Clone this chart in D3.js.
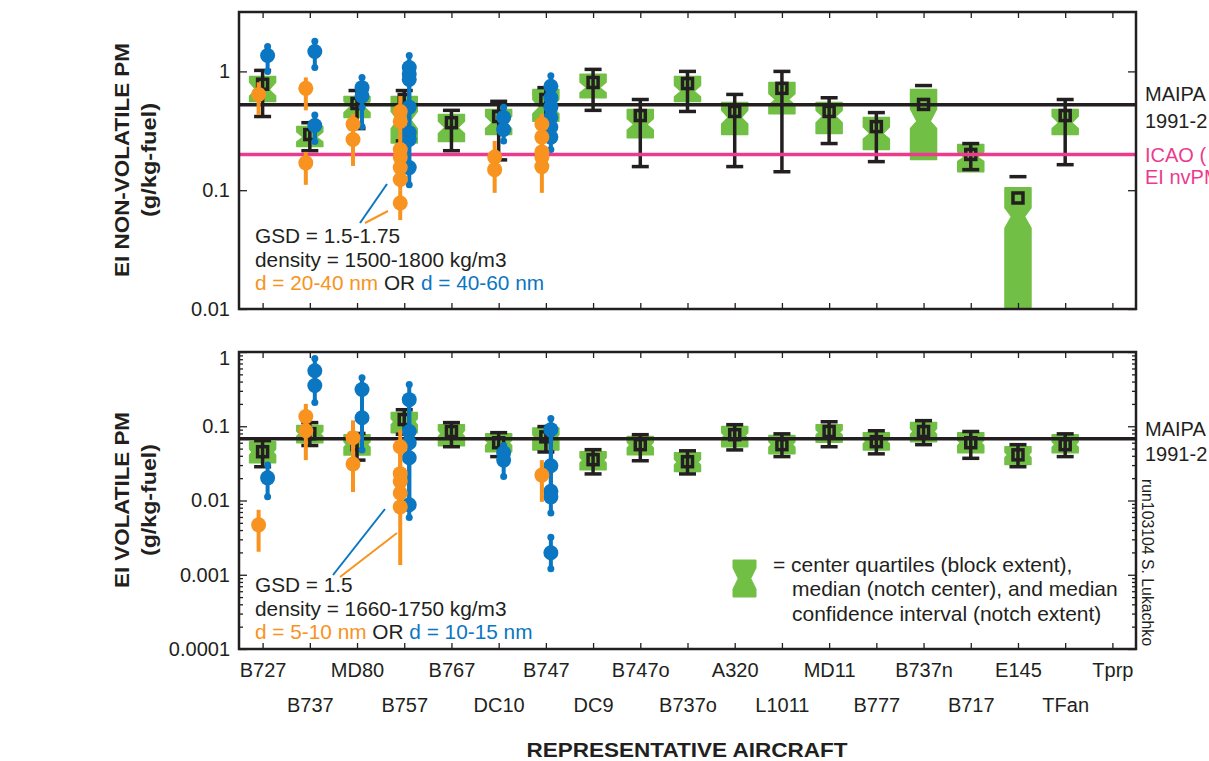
<!DOCTYPE html>
<html>
<head>
<meta charset="utf-8">
<script src="https://d3js.org/d3.v7.min.js"></script>
<style>
  body { margin: 0; background: #fff; }
  svg { display: block; font-family: "Liberation Sans", Arial, Helvetica, sans-serif; }
</style>
</head>
<body>
<div id="chart"></div>
<script>
const aircraft = ["B727","B737","MD80","B757","B767","DC10","B747","DC9","B747o","B737o",
                  "A320","L1011","MD11","B777","B737n","B717","E145","TFan","Tprp"];

// top panel: EI non-volatile PM, boxes (quartiles / median / notch) and mean +- range
const nvQ1      = [0.558,0.233,0.41,0.25,0.257,0.294,0.38,0.6,0.277,0.558,0.294,0.44,0.3,0.22,0.181,0.143,0.008,0.294,null];
const nvQ3      = [0.907,0.343,0.615,0.615,0.434,0.478,0.705,0.944,0.478,0.907,0.547,0.807,0.547,0.41,0.705,0.242,0.105,0.478,null];
const nvMed     = [0.70,0.28,0.506,0.39,0.337,0.37,0.5,0.73,0.357,0.68,0.41,0.58,0.42,0.3,0.38,0.19,0.06,0.37,null];
const nvNotchLo = [0.62,0.255,0.45,0.33,0.30,0.33,0.44,0.66,0.32,0.61,0.36,0.52,0.37,0.27,0.33,0.175,0.048,0.33,null];
const nvNotchHi = [0.81,0.31,0.56,0.46,0.38,0.42,0.58,0.81,0.40,0.76,0.47,0.65,0.47,0.34,0.48,0.21,0.071,0.42,null];
const nvMean    = [0.78,0.294,0.537,0.58,0.37,0.417,0.58,0.807,0.425,0.79,0.46,0.72,0.46,0.343,0.527,0.2,0.086,0.425,null];
const nvErrLo   = [0.417,0.215,0.33,0.26,0.215,0.18,0.30,0.47,0.158,0.46,0.158,0.143,0.247,0.174,null,0.149,null,0.164,null];
const nvErrHi   = [1.02,0.37,0.69,0.69,0.47,0.56,0.73,1.04,0.58,1.0,0.64,1.0,0.6,0.45,0.76,0.247,0.13,0.58,null];

// modelled points: [aircraft, value, low, high]
const nvSmall = [
  ["B727",0.64,0.43,0.81],
  ["B737",0.72,0.47,0.89],["B737",0.17,0.111,0.21],
  ["MD80",0.36,0.27,0.44],["MD80",0.267,0.16,0.36],
  ["B757",0.46,0.38,0.62],["B757",0.38,0.30,0.46],["B757",0.22,0.19,0.30],["B757",0.19,0.155,0.22],
  ["B757",0.155,0.123,0.19],["B757",0.123,0.10,0.155],["B757",0.078,0.056,0.10],
  ["DC10",0.19,0.15,0.26],["DC10",0.149,0.095,0.19],
  ["B747",0.36,0.28,0.44],["B747",0.28,0.21,0.36],["B747",0.21,0.158,0.28],["B747",0.19,0.158,0.21],["B747",0.158,0.095,0.19]
];
const nvLarge = [
  ["B727",1.36,1.0,1.62],
  ["B737",1.47,1.08,1.79],["B737",0.35,0.257,0.43],
  ["MD80",0.73,0.5,0.89],["MD80",0.62,0.343,0.73],
  ["B757",1.08,0.95,1.36],["B757",0.95,0.856,1.08],["B757",0.856,0.5,0.95],["B757",0.5,0.305,0.856],
  ["B757",0.305,0.267,0.5],["B757",0.267,0.155,0.305],["B757",0.155,0.111,0.267],
  ["DC10",0.41,0.33,0.5],["DC10",0.324,0.26,0.41],
  ["B747",0.75,0.6,0.92],["B747",0.6,0.5,0.75],["B747",0.5,0.41,0.6],["B747",0.41,0.34,0.5],
  ["B747",0.34,0.28,0.41],["B747",0.28,0.22,0.34]
];
const nvMaipa = 0.525;
const nvIcao = 0.2;

// bottom panel: EI volatile PM
const volQ1      = [0.0323,0.060,0.041,0.082,0.0547,0.0454,0.048,0.026,0.0412,0.0245,0.053,0.0425,0.0607,0.048,0.062,0.044,0.0305,0.044,null];
const volQ3      = [0.062,0.102,0.077,0.153,0.105,0.079,0.095,0.0454,0.0725,0.044,0.099,0.075,0.105,0.082,0.112,0.082,0.053,0.077,null];
const volMed     = [0.045,0.079,0.057,0.115,0.08,0.06,0.07,0.035,0.056,0.033,0.075,0.057,0.083,0.063,0.085,0.06,0.041,0.057,null];
const volNotchLo = [0.041,0.073,0.052,0.105,0.073,0.055,0.064,0.032,0.051,0.030,0.069,0.052,0.076,0.058,0.078,0.055,0.038,0.052,null];
const volNotchHi = [0.049,0.086,0.062,0.126,0.088,0.065,0.077,0.038,0.061,0.036,0.082,0.062,0.09,0.068,0.093,0.065,0.045,0.062,null];
const volMean    = [0.0454,0.0794,0.0565,0.123,0.085,0.060,0.072,0.0355,0.0565,0.0333,0.077,0.0565,0.085,0.062,0.085,0.06,0.0412,0.0565,null];
const volErrLo   = [0.0285,0.055,0.035,0.078,0.053,0.039,0.045,0.0228,0.0343,0.0228,0.048,0.039,0.053,0.0425,0.0565,0.037,0.0285,0.039,null];
const volErrHi   = [0.064,0.112,0.08,0.167,0.112,0.082,0.099,0.0484,0.077,0.0467,0.105,0.079,0.115,0.087,0.119,0.085,0.0565,0.079,null];

const volSmall = [
  ["B727",0.0047,0.00204,0.0075],
  ["B737",0.135,0.087,0.2],["B737",0.087,0.035,0.135],
  ["MD80",0.07,0.031,0.12],["MD80",0.031,0.013,0.07],
  ["B757",0.053,0.023,0.09],["B757",0.023,0.018,0.053],["B757",0.018,0.0126,0.023],
  ["B757",0.0126,0.0082,0.018],["B757",0.0082,0.00135,0.0126],
  ["B747",0.022,0.0096,0.035]
];
const volLarge = [
  ["B727",0.0202,0.0112,0.03],
  ["B737",0.56,0.354,0.82],["B737",0.354,0.209,0.56],
  ["MD80",0.312,0.13,0.45],["MD80",0.13,0.048,0.312],
  ["B757",0.228,0.085,0.365],["B757",0.085,0.06,0.228],["B757",0.06,0.0377,0.085],
  ["B757",0.0377,0.00875,0.06],["B757",0.00875,0.0059,0.0377],
  ["DC10",0.044,0.035,0.055],["DC10",0.035,0.021,0.044],
  ["B747",0.09,0.0294,0.127],["B747",0.0294,0.0133,0.09],["B747",0.0133,0.0112,0.0294],
  ["B747",0.0112,0.0068,0.0133],["B747",0.00198,0.0012,0.0032]
];
const volMaipa = 0.068;

const ink = "#231f20", green = "#72bf45", orange = "#f7931e", blue = "#0b76c1", pink = "#ec3b8e";
const left = 239, right = 1136;

const svg = d3.select("#chart").append("svg").attr("width", 1209).attr("height", 761);
const x = d3.scalePoint().domain(aircraft).range([left, right]).padding(0.5);

const notchPath = (cx, yq1, yq3, ynlo, ynhi, ymed, w, neck) => {
  const h = w / 2, n = w * neck / 2;
  ynhi = Math.max(ynhi, yq3); ynlo = Math.min(ynlo, yq1);
  return `M${cx-h},${yq3}L${cx+h},${yq3}L${cx+h},${ynhi}L${cx+n},${ymed}L${cx+h},${ynlo}L${cx+h},${yq1}` +
         `L${cx-h},${yq1}L${cx-h},${ynlo}L${cx-n},${ymed}L${cx-h},${ynhi}Z`;
};

function drawPanel(cfg) {
  const y = d3.scaleLog().domain(cfg.domain).range([cfg.bottom, cfg.top]);
  const g = svg.append("g");
  const clipId = "clip" + cfg.top;
  svg.append("clipPath").attr("id", clipId).append("rect")
    .attr("x", left).attr("y", cfg.top).attr("width", right - left).attr("height", cfg.bottom - cfg.top);
  const plot = g.append("g").attr("clip-path", `url(#${clipId})`);

  const rows = aircraft.map((a, i) => ({
    a, q1: cfg.q1[i], q3: cfg.q3[i], med: cfg.med[i], nlo: cfg.nlo[i], nhi: cfg.nhi[i],
    mean: cfg.mean[i], lo: cfg.errLo[i], hi: cfg.errHi[i]
  })).filter(d => d.q1 != null);

  // notched boxes
  plot.selectAll("path.box").data(rows).join("path")
    .attr("class", "box")
    .attr("d", d => notchPath(x(d.a), y(d.q1), y(d.q3), y(d.nlo), y(d.nhi), y(d.med), 26, cfg.neck))
    .attr("fill", green).attr("stroke", green).attr("stroke-width", 1.5).attr("stroke-linejoin", "round");

  // range bars
  plot.selectAll("line.err").data(rows.filter(d => d.lo != null)).join("line")
    .attr("x1", d => x(d.a)).attr("x2", d => x(d.a))
    .attr("y1", d => y(d.lo)).attr("y2", d => y(d.hi))
    .attr("stroke", ink).attr("stroke-width", 3.5);
  const caps = rows.flatMap(d => d.lo != null ? [[d.a, d.lo], [d.a, d.hi]] : [[d.a, d.hi]]);
  plot.selectAll("line.cap").data(caps).join("line")
    .attr("x1", d => x(d[0]) - 8.5).attr("x2", d => x(d[0]) + 8.5)
    .attr("y1", d => y(d[1])).attr("y2", d => y(d[1]))
    .attr("stroke", ink).attr("stroke-width", 3.5);
  plot.selectAll("rect.mean").data(rows).join("rect")
    .attr("x", d => x(d.a) - 5).attr("y", d => y(d.mean) - 5)
    .attr("width", 10).attr("height", 10)
    .attr("fill", "none").attr("stroke", ink).attr("stroke-width", 3.5);

  // reference lines
  cfg.refs.forEach(r => {
    plot.append("line").attr("x1", left).attr("x2", right)
      .attr("y1", y(r.v)).attr("y2", y(r.v))
      .attr("stroke", r.color).attr("stroke-width", 3.5);
    r.labels.forEach((t, k) => {
      svg.append("text").attr("x", 1145).attr("y", y(r.v) + r.dy[k])
        .attr("font-size", 20).attr("fill", r.color).text(t);
    });
  });

  // modelled points
  const drawPts = (pts, color, dx, ends) => {
    const pg = plot.append("g");
    pg.selectAll("line").data(pts).join("line")
      .attr("x1", d => x(d[0]) + dx).attr("x2", d => x(d[0]) + dx)
      .attr("y1", d => y(d[2])).attr("y2", d => y(d[3]))
      .attr("stroke", color).attr("stroke-width", 4);
    if (ends) {
      pg.selectAll("circle.end").data(pts.flatMap(d => [[d[0], d[2]], [d[0], d[3]]])).join("circle")
        .attr("cx", d => x(d[0]) + dx).attr("cy", d => y(d[1])).attr("r", 3.5).attr("fill", color);
    }
    pg.selectAll("circle.pt").data(pts).join("circle")
      .attr("cx", d => x(d[0]) + dx).attr("cy", d => y(d[1])).attr("r", 7.5).attr("fill", color);
  };
  drawPts(cfg.large, blue, 5, true);
  drawPts(cfg.small, orange, -4, false);

  // axes
  const style = sel => {
    sel.select(".domain").remove();
    sel.selectAll(".tick line").attr("stroke", ink).attr("stroke-width", 1.3);
    sel.selectAll("text").attr("font-size", 20).attr("fill", ink)
      .attr("font-family", '"Liberation Sans", Arial, sans-serif');
  };
  const yl = g.append("g").attr("transform", `translate(${left},0)`)
    .call(d3.axisLeft(y).tickValues(cfg.major).tickSize(-8).tickPadding(9).tickFormat(d3.format("~g"))).call(style);
  // keep the top label inside the frame like the original
  yl.selectAll(".tick text").filter(d => d === cfg.domain[1]).attr("dy", "0.62em");
  g.append("g").attr("transform", `translate(${right},0)`)
    .call(d3.axisRight(y).tickValues(cfg.major).tickSize(-8).tickFormat("")).call(style);
  if (cfg.minor) {
    const minor = y.ticks().filter(t => !cfg.major.some(m => Math.abs(m - t) / m < 1e-6));
    g.append("g").attr("transform", `translate(${left},0)`)
      .call(d3.axisLeft(y).tickValues(minor).tickSize(-4).tickFormat("")).call(style);
    g.append("g").attr("transform", `translate(${right},0)`)
      .call(d3.axisRight(y).tickValues(minor).tickSize(-4).tickFormat("")).call(style);
  }
  g.append("g").attr("transform", `translate(0,${cfg.top})`)
    .call(d3.axisTop(x).tickSize(-6).tickFormat("")).call(style);
  const xb = g.append("g").attr("transform", `translate(0,${cfg.bottom})`)
    .call(d3.axisBottom(x).tickSize(-6).tickPadding(14).tickFormat(cfg.xLabels ? d => d : "")).call(style);
  if (cfg.xLabels) {
    xb.selectAll(".tick text").attr("y", (d, i) => i % 2 ? 49 : 14);
  }

  g.append("rect").attr("x", left).attr("y", cfg.top)
    .attr("width", right - left).attr("height", cfg.bottom - cfg.top)
    .attr("fill", "none").attr("stroke", ink).attr("stroke-width", 2.5);

  // y titles
  cfg.title.forEach((t, k) => {
    svg.append("text").attr("transform", `translate(${k ? 156 : 129},${cfg.titleY}) rotate(-90)`)
      .attr("text-anchor", "middle").attr("font-size", 20).attr("font-weight", "bold").attr("fill", ink)
      .attr("textLength", cfg.titleLen[k]).attr("lengthAdjust", "spacingAndGlyphs").text(t);
  });

  // annotation block
  const a = cfg.note;
  a.leaders.forEach(l => {
    svg.append("line").attr("x1", l[0]).attr("y1", l[1]).attr("x2", l[2]).attr("y2", l[3])
      .attr("stroke", l[4]).attr("stroke-width", 2);
  });
  a.lines.forEach((parts, k) => {
    const t = svg.append("text").attr("x", 255).attr("y", a.y + k * 23.5).attr("font-size", 20.8);
    parts.forEach(p => t.append("tspan").attr("fill", p[1]).text(p[0]));
  });
}

drawPanel({
  top: 12, bottom: 309, domain: [0.01, Math.sqrt(10)], neck: 0.5,
  q1: nvQ1, q3: nvQ3, med: nvMed, nlo: nvNotchLo, nhi: nvNotchHi, mean: nvMean, errLo: nvErrLo, errHi: nvErrHi,
  small: nvSmall, large: nvLarge, major: [1, 0.1, 0.01], minor: false, xLabels: false,
  refs: [
    { v: nvMaipa, color: ink, labels: ["MAIPA", "1991-2"], dy: [-4, 23] },
    { v: nvIcao, color: pink, labels: ["ICAO (", "EI nvPM"], dy: [8, 30] }
  ],
  title: ["EI NON-VOLATILE PM", "(g/kg-fuel)"], titleLen: [234, 114], titleY: 160,
  note: {
    y: 243,
    leaders: [[387, 184, 360, 223, blue], [388, 211, 365, 223, orange]],
    lines: [[["GSD = 1.5-1.75", ink]], [["density = 1500-1800 kg/m3", ink]],
            [["d = 20-40 nm", orange], [" OR ", ink], ["d = 40-60 nm", blue]]]
  }
});

drawPanel({
  top: 352, bottom: 649, domain: [0.0001, 1], neck: 0.8,
  q1: volQ1, q3: volQ3, med: volMed, nlo: volNotchLo, nhi: volNotchHi, mean: volMean, errLo: volErrLo, errHi: volErrHi,
  small: volSmall, large: volLarge, major: [1, 0.1, 0.01, 0.001, 0.0001], minor: true, xLabels: true,
  refs: [ { v: volMaipa, color: ink, labels: ["MAIPA", "1991-2"], dy: [-3, 22] } ],
  title: ["EI VOLATILE PM", "(g/kg-fuel)"], titleLen: [176, 112], titleY: 500,
  note: {
    y: 592,
    leaders: [[385, 509, 333, 575, blue], [397, 533, 340, 577, orange]],
    lines: [[["GSD = 1.5", ink]], [["density = 1660-1750 kg/m3", ink]],
            [["d = 5-10 nm", orange], [" OR ", ink], ["d = 10-15 nm", blue]]]
  }
});

// x-axis title
svg.append("text").attr("x", 687).attr("y", 757).attr("text-anchor", "middle")
  .attr("font-size", 20).attr("font-weight", "bold").attr("fill", ink)
  .attr("textLength", 321).attr("lengthAdjust", "spacingAndGlyphs").text("REPRESENTATIVE AIRCRAFT");

// signature
svg.append("text").attr("transform", "translate(1142,479) rotate(90)")
  .attr("font-size", 16).attr("fill", ink)
  .attr("textLength", 167).attr("lengthAdjust", "spacingAndGlyphs").text("run103104 S. Lukachko");

// legend
const lg = svg.append("g");
lg.append("path").attr("d", notchPath(744.5, 597, 560, 589, 568, 578.5, 23, 0.55))
  .attr("fill", green).attr("stroke", green).attr("stroke-width", 1).attr("stroke-linejoin", "round");
const legendLines = [["= center quartiles (block extent),", 773, 572],
                     ["median (notch center), and median", 792, 596],
                     ["confidence interval (notch extent)", 792, 621]];
legendLines.forEach(l => {
  lg.append("text").attr("x", l[1]).attr("y", l[2]).attr("font-size", 21).attr("fill", ink).text(l[0]);
});
</script>
</body>
</html>
